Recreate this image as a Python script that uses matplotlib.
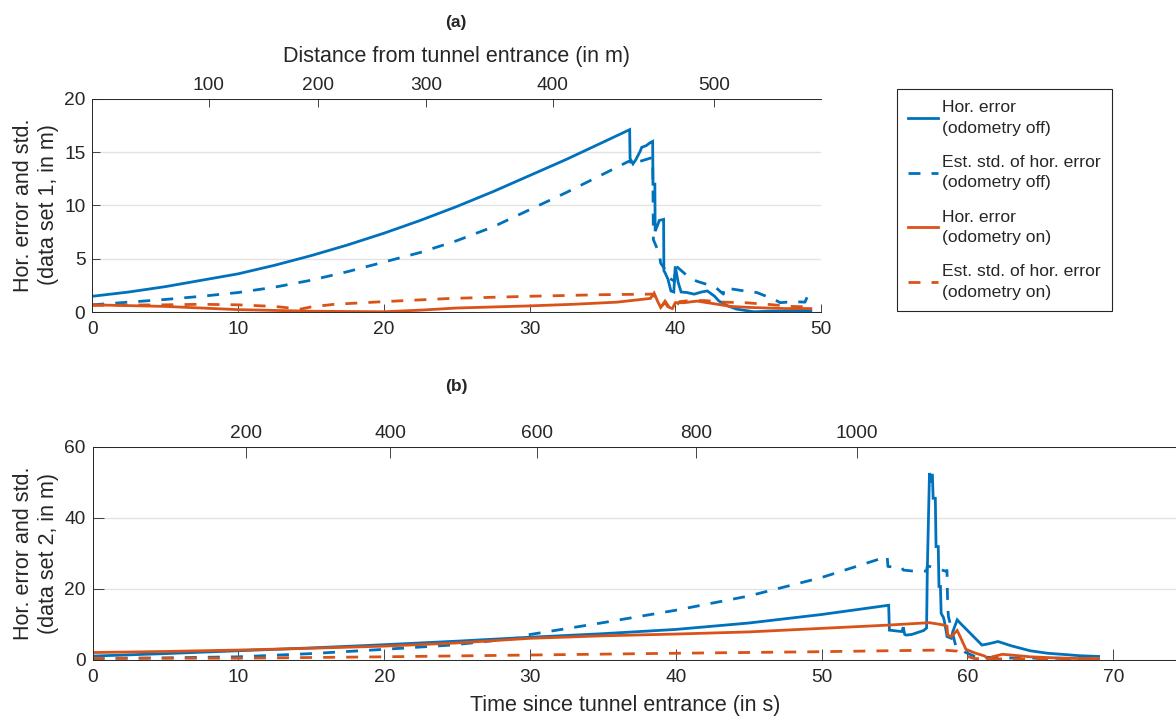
"""Horizontal error and estimated std. in the tunnel, two data sets (a) and (b)."""

import matplotlib
matplotlib.use("Agg")
import matplotlib.pyplot as plt

matplotlib.rcParams.update(
    {
        "font.family": ["Liberation Sans", "DejaVu Sans"],
        "text.color": "#262626",
        "axes.labelcolor": "#262626",
        "xtick.color": "#262626",
        "ytick.color": "#262626",
    }
)

# ── colours ─────────────────────────────────────────────────────────
C_BLUE = "#0072BD"
C_ORANGE = "#D95319"
C_AXIS = "#262626"
C_GRID = "#e3e3e3"
DASH = (4.3, 4.0)

# =====================================================================
# Data set 1 (panel a)
# =====================================================================
a_t_err_off = [0, 2.5, 5, 7.5, 10, 12.5, 15, 17.5, 20, 22.5, 25, 27.5, 30, 32.5, 35,
               36.87, 36.9, 37.1, 37.3, 37.6, 37.7, 38.0, 38.3, 38.45, 38.47,
               38.6, 38.62, 38.8, 38.9, 39.2, 39.22, 39.3, 39.5, 39.7, 39.9,
               40.0, 40.2, 40.4, 40.8, 41.3, 41.8, 42.2, 42.7, 43.0, 43.6,
               44.2, 45.4, 46.5, 47.5, 48.5, 49.3]
a_err_off = [1.5, 1.9, 2.4, 3.0, 3.6, 4.4, 5.3, 6.3, 7.4, 8.6, 9.9, 11.3, 12.8, 14.3, 15.9,
             17.1, 14.4, 13.9, 14.3, 15.1, 15.45, 15.6, 15.9, 16.0, 12.0,
             12.0, 7.6, 8.2, 8.6, 8.7, 3.9, 3.7, 3.1, 2.0, 1.9,
             4.3, 2.8, 1.9, 1.85, 1.7, 1.9, 2.0, 1.5, 1.05, 0.6,
             0.3, 0.05, 0.1, 0.1, 0.15, 0.15]

a_t_std_off = [0, 2.5, 5, 7.5, 10, 12.5, 15, 17.5, 20, 22.5, 25, 27.5, 30, 32.5, 35, 36.9,
               37.0, 37.5, 38.45, 38.5, 38.9, 39.0, 39.3, 39.6, 39.95, 40.0, 40.5, 41.0,
               41.5, 42.2, 42.8, 43.3, 43.35, 44.5, 45.6, 46.8, 47.2, 48.1, 48.9, 49.1]
a_std_off = [0.7, 0.95, 1.2, 1.5, 1.85, 2.35, 3.0, 3.8, 4.7, 5.6, 6.7, 8.0, 9.6, 11.2, 12.9, 14.2,
             13.8, 14.1, 14.5, 6.8, 5.5, 4.6, 4.0, 3.2, 2.9, 4.4, 3.8, 3.2,
             2.9, 2.6, 2.3, 1.7, 2.3, 2.05, 1.85, 1.2, 0.9, 1.0, 0.95, 1.6]

a_t_err_on = [0, 5, 7.5, 10, 15, 20, 22.5, 25, 30, 33, 36, 38.3, 38.55, 38.8, 39.0,
              39.3, 39.6, 39.8, 40.0, 40.6, 41.5, 42.2, 42.9, 43.8, 45.2, 47.5, 49.3]
a_err_on = [0.7, 0.55, 0.4, 0.25, 0.1, 0.05, 0.2, 0.4, 0.6, 0.75, 0.95, 1.3, 1.8, 1.0, 0.45,
            1.05, 0.45, 0.35, 0.9, 0.9, 1.05, 0.9, 0.75, 0.55, 0.45, 0.35, 0.35]

a_t_std_on = [0, 5, 7.4, 10, 12.5, 14.3, 15, 16.6, 20, 24.6, 30, 35, 38.4, 38.6, 38.8,
              39.0, 39.3, 39.6, 40.0, 40.3, 41.0, 42.0, 43.3, 44.8, 46.3, 48.0, 49.3]
a_std_on = [0.65, 0.7, 0.75, 0.7, 0.55, 0.3, 0.5, 0.75, 1.0, 1.3, 1.5, 1.65, 1.7, 1.5, 0.8,
            0.5, 0.9, 0.3, 0.5, 1.0, 1.1, 1.1, 0.95, 0.9, 0.75, 0.55, 0.5]

# distance ticks on the top axis: where the vehicle passed each mark (in s)
a_dist_labels = [100, 200, 300, 400, 500]
a_dist_times = [8.0, 15.5, 22.9, 31.6, 42.65]

# =====================================================================
# Data set 2 (panel b)
# =====================================================================
b_t_err_off = [0, 5, 10, 15, 20, 25, 30, 35, 40, 45, 50, 54.6, 54.65, 55.5, 55.6, 55.7,
               55.8, 56.2, 57.0, 57.2, 57.25, 57.4, 57.5, 57.55, 57.6, 57.65, 57.8,
               57.85, 58.0, 58.05, 58.15, 58.2, 58.35, 58.4, 58.55, 58.6, 58.9, 59.0,
               59.3, 59.5, 60.2, 61.0, 61.5, 62.1, 63.0, 64.3, 65.5, 66.8, 67.7, 69.0]
b_err_off = [1.1, 1.8, 2.6, 3.4, 4.3, 5.3, 6.4, 7.4, 8.6, 10.4, 12.8, 15.4, 8.4, 8.0, 9.2, 7.2,
             7.0, 7.2, 8.3, 9.0, 25.3, 52.6, 50.0, 52.0, 52.0, 45.5, 45.5,
             31.9, 31.9, 20.7, 20.7, 13.1, 12.0, 11.3, 8.0, 6.6, 6.1, 8.0,
             11.3, 10.4, 7.5, 4.2, 4.6, 5.2, 4.0, 2.6, 1.9, 1.5, 1.2, 1.0]

b_t_std_off = [0, 5, 10, 15, 20, 24.6, 29.5, 29.6, 35, 40, 45, 50, 54.5,
               54.55, 55.5, 55.6, 56.3, 57.2, 57.25, 58.5, 58.6, 58.62, 58.65, 58.7,
               59.2, 59.8, 60.5, 62.0, 69.0]
b_std_off = [0.4, 0.6, 0.9, 1.8, 3.0, 4.2, 6.3, 6.9, 10.5, 14.0, 18.0, 23.2, 29.1,
             26.3, 26.0, 25.3, 25.0, 25.0, 26.5, 25.0, 25.2, 20.6, 15.0, 12.2,
             4.0, 2.3, 1.0, 0.6, 0.4]

b_t_err_on = [0, 5, 10, 15, 20, 25, 30, 35, 40, 45, 50, 54.5, 57.4, 58.3, 58.6, 58.65,
              58.9, 59.3, 59.5, 59.9, 60.5, 61.2, 61.4, 61.7, 62.4, 63.0, 64.3, 66.0,
              67.7, 69.0]
b_err_on = [2.1, 2.4, 2.8, 3.3, 3.9, 4.8, 6.1, 6.8, 7.3, 7.9, 8.9, 9.8, 10.5, 9.9, 9.5, 7.0,
            6.6, 8.3, 6.6, 3.0, 2.0, 1.1, 0.2, 0.9, 1.6, 1.4, 0.9, 0.6,
            0.4, 0.35]

b_t_std_on = [0, 10, 20, 30, 40, 49.2, 54.5, 58.3, 59.3, 60.0, 60.5, 62.0, 69.0]
b_std_on = [0.5, 0.5, 0.9, 1.4, 1.9, 2.3, 2.6, 2.8, 2.5, 1.0, 0.4, 0.3, 0.3]

b_dist_labels = [200, 400, 600, 800, 1000]
b_dist_times = [10.55, 20.4, 30.5, 41.4, 52.4]

LEGEND_LABELS = [
    "Hor. error\n(odometry off)",
    "Est. std. of hor. error\n(odometry off)",
    "Hor. error\n(odometry on)",
    "Est. std. of hor. error\n(odometry on)",
]


def draw_panel(ax, series, xlim, xticks, ylim, yticks, dist_times, dist_labels, ticklen):
    lines = []
    for t, v, color, dashed in series:
        (ln,) = ax.plot(t, v, color=color, linewidth=2.0, solid_joinstyle="miter")
        if dashed:
            ln.set_dashes(DASH)
        lines.append(ln)

    ax.set_xlim(*xlim)
    ax.set_ylim(*ylim)
    ax.set_xticks(xticks)
    ax.set_yticks(yticks)
    ax.yaxis.grid(True, color=C_GRID, linewidth=1.0)
    ax.set_axisbelow(True)
    ax.tick_params(direction="in", length=ticklen, width=0.6, labelsize=13.8)
    ax.tick_params(axis="x", pad=6.5)
    ax.tick_params(axis="y", pad=5)
    ax.spines["right"].set_visible(False)
    ax.spines["top"].set_visible(False)
    for s in ("left", "bottom"):
        ax.spines[s].set_color(C_AXIS)
        ax.spines[s].set_linewidth(0.7)

    # distance axis on top
    top = ax.twiny()
    top.set_xlim(*xlim)
    top.set_xticks(dist_times)
    top.set_xticklabels([str(d) for d in dist_labels])
    top.tick_params(direction="in", length=ticklen, width=0.6, labelsize=13.8, pad=3.5)
    for s in ("left", "right", "bottom"):
        top.spines[s].set_visible(False)
    top.spines["top"].set_color(C_AXIS)
    top.spines["top"].set_linewidth(0.7)
    return lines, top


W, H = 1176, 717
fig = plt.figure(figsize=(W / 100, H / 100), dpi=100)

# ── panel (a) ───────────────────────────────────────────────────────
ax_a = fig.add_axes([92.3 / W, 1 - 312.3 / H, (821 - 92.3) / W, (312.3 - 98.7) / H])
series_a = [
    (a_t_err_off, a_err_off, C_BLUE, False),
    (a_t_std_off, a_std_off, C_BLUE, True),
    (a_t_err_on, a_err_on, C_ORANGE, False),
    (a_t_std_on, a_std_on, C_ORANGE, True),
]
lines_a, top_a = draw_panel(ax_a, series_a, (0, 50), range(0, 51, 10), (0, 20),
                            range(0, 21, 5), a_dist_times, a_dist_labels, 5.5)
top_a.set_xlabel("Distance from tunnel entrance (in m)", fontsize=15.5, labelpad=11)

# ── panel (b) ───────────────────────────────────────────────────────
ax_b = fig.add_axes([92.6 / W, 1 - 660 / H, (W - 92.6) / W, (660 - 446.7) / H])
series_b = [
    (b_t_err_off, b_err_off, C_BLUE, False),
    (b_t_std_off, b_std_off, C_BLUE, True),
    (b_t_err_on, b_err_on, C_ORANGE, False),
    (b_t_std_on, b_std_on, C_ORANGE, True),
]
draw_panel(ax_b, series_b, (0, (W - 92.6) / 14.58), range(0, 71, 10), (0, 60),
           range(0, 61, 20), b_dist_times, b_dist_labels, 8)
ax_b.set_xlabel("Time since tunnel entrance (in s)", fontsize=15.5)
ax_b.xaxis.set_label_coords((625 - 92.6) / (W - 92.6), -0.165)

# ── y labels, panel titles ──────────────────────────────────────────
fig.text(36 / W, 1 - 205 / H, "Hor. error and std.\n(data set 1, in m)", rotation=90,
         ha="center", va="center", multialignment="center", fontsize=15.5)
fig.text(36 / W, 1 - 553 / H, "Hor. error and std.\n(data set 2, in m)", rotation=90,
         ha="center", va="center", multialignment="center", fontsize=15.5)
fig.text(456 / W, 1 - 23 / H, "(a)", ha="center", va="center", fontsize=12.5,
         fontweight="bold")
fig.text(456 / W, 1 - 386 / H, "(b)", ha="center", va="center", fontsize=12.5,
         fontweight="bold")

# ── legend ──────────────────────────────────────────────────────────
leg = fig.legend(
    lines_a,
    LEGEND_LABELS,
    loc="upper left",
    bbox_to_anchor=(897 / W, 1 - 89 / H),
    bbox_transform=fig.transFigure,
    borderaxespad=0,
    fontsize=12.6,
    handlelength=1.7,
    handletextpad=0.2,
    labelspacing=1.1,
    borderpad=0.65,
    fancybox=False,
    framealpha=1,
    edgecolor=C_AXIS,
)
for txt in leg.get_texts():
    txt.set_linespacing(1.45)
leg.get_frame().set_linewidth(0.8)

fig.savefig("out.png", dpi=100)
